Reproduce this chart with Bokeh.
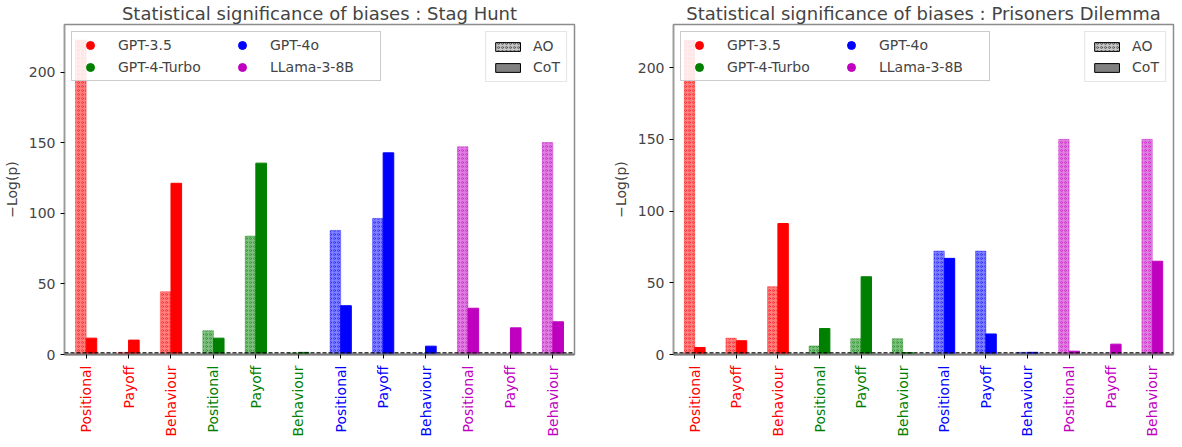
import numpy as np
from bokeh.plotting import figure
from bokeh.models import (Range1d, Span, Legend, LegendItem, FixedTicker,
                          ColumnDataSource)
from bokeh.layouts import row, column
from bokeh.core.properties import value
from bokeh.embed import file_html
from bokeh.resources import INLINE

# ---------------- data ----------------
MODELS = ["GPT-3.5", "GPT-4-Turbo", "GPT-4o", "LLama-3-8B"]
MODEL_COLORS = ["#ff0000", "#008000", "#0000ff", "#bf00bf"]
BIASES = ["Positional", "Payoff", "Behaviour"]
YTICKS = [0, 50, 100, 150, 200]
THRESHOLD = 1.3  # -log10(0.05)

STAG_AO = [223.0, 1.5, 44.5, 16.9, 84.0, 1.0, 88.0, 96.5, 0.5, 147.3, 0.3, 150.3]
STAG_COT = [11.6, 10.2, 121.4, 11.6, 135.7, 1.5, 34.6, 143.0, 5.9, 32.8, 18.9, 23.2]
PD_AO = [219.0, 11.4, 47.3, 6.0, 11.0, 11.0, 72.1, 72.1, 1.5, 150.0, 0.3, 150.0]
PD_COT = [4.9, 9.6, 91.3, 18.1, 54.2, 1.3, 67.0, 14.3, 1.5, 2.3, 7.2, 65.0]

FONT = "DejaVu Sans"
BAR_W = 0.25
FRAME_H = 330
STRIP_H = 74


def make_panel(title, ao, cot, ymax, border_left, frame_w, border_right):
    n = len(MODELS) * len(BIASES)
    idx = np.arange(n)
    labels = [b for m in MODELS for b in BIASES]
    colors = [c for c in MODEL_COLORS for _ in BIASES]
    src = ColumnDataSource(dict(x=idx, x_ao=idx - BAR_W / 2, x_cot=idx + BAR_W / 2,
                                ao=ao, cot=cot, color=colors, label=labels))
    xr = Range1d(-0.51, n - 1 + 0.51)

    p = figure(title=title, frame_width=frame_w, frame_height=FRAME_H,
               min_border_left=border_left, min_border_right=border_right,
               min_border_top=0, min_border_bottom=9,
               x_range=xr, y_range=Range1d(0, ymax),
               output_backend="svg", toolbar_location=None)
    p.background_fill_color = "white"
    p.border_fill_color = "white"
    p.grid.visible = False
    p.outline_line_color = "#8c8c8c"
    p.outline_line_width = 1.5

    p.title.text_font = FONT
    p.title.text_font_size = "18px"
    p.title.text_font_style = "normal"
    p.title.align = "center"
    p.title.standoff = 1

    # bars
    p.vbar(x="x_ao", top="ao", bottom=0, width=BAR_W, source=src,
           fill_color="color", fill_alpha=0.5, line_color="color", line_alpha=0.35,
           hatch_pattern="o", hatch_color="color", hatch_alpha=0.55,
           hatch_scale=4, hatch_weight=0.8)
    p.vbar(x="x_cot", top="cot", bottom=0, width=BAR_W, source=src,
           fill_color="color", line_color="color")

    p.add_layout(Span(location=THRESHOLD, dimension="width", line_color="black",
                      line_alpha=0.75, line_dash="4 2", line_width=1.5))

    # y axis
    p.yaxis.ticker = FixedTicker(ticks=YTICKS)
    p.yaxis.minor_tick_line_color = None
    p.yaxis.major_tick_in = 0
    p.yaxis.major_tick_out = 4
    p.yaxis.axis_line_color = "#9a9a9a"
    p.yaxis.axis_line_width = 1.5
    p.yaxis.major_label_text_font = FONT
    p.yaxis.major_label_text_font_size = "14px"
    p.yaxis.axis_label = "\u2212Log(p)"
    p.yaxis.axis_label_text_font = FONT
    p.yaxis.axis_label_text_font_size = "14px"
    p.yaxis.axis_label_text_font_style = "normal"
    p.yaxis.axis_label_standoff = 6

    # x axis: ticks only; coloured category labels are drawn in the strip below
    p.xaxis.ticker = FixedTicker(ticks=list(idx))
    p.xaxis.minor_tick_line_color = None
    p.xaxis.major_tick_in = 0
    p.xaxis.major_tick_out = 4
    p.xaxis.major_tick_line_color = "black"
    p.xaxis.axis_line_color = "#7a7a7a"
    p.xaxis.axis_line_width = 2
    p.xaxis.major_label_text_color = None
    p.xaxis.major_label_text_font_size = "1px"
    p.xaxis.major_label_standoff = 0

    # legend of models
    model_items = []
    for m, c in zip(MODELS, MODEL_COLORS):
        r = p.scatter(x=[np.nan], y=[np.nan], marker="circle", size=10,
                      fill_color=c, line_color=c)
        model_items.append(LegendItem(label=m, renderers=[r]))
    leg1 = Legend(items=model_items, location="top_left", ncols=2,
                  orientation="vertical",
                  glyph_width=30, glyph_height=20, label_height=20, spacing=2,
                  label_standoff=13, label_width=107, padding=3, margin=7,
                  label_text_font=FONT, label_text_font_size="14px",
                  border_line_color="#cccccc", border_line_alpha=1,
                  background_fill_alpha=0.85)
    p.add_layout(leg1)

    # legend of prompting style
    r_ao = p.vbar(x=[np.nan], top=[np.nan], width=BAR_W, fill_color="#c8c8c8",
                  line_color="black", hatch_pattern="o", hatch_color="#404040",
                  hatch_scale=4, hatch_weight=0.8)
    r_cot = p.vbar(x=[np.nan], top=[np.nan], width=BAR_W, fill_color="#808080",
                   line_color="black")
    leg2 = Legend(items=[LegendItem(label="AO", renderers=[r_ao]),
                         LegendItem(label="CoT", renderers=[r_cot])],
                  location="top_right", glyph_width=31, glyph_height=11,
                  label_height=11, spacing=5, label_standoff=10, padding=6, margin=7,
                  label_text_font=FONT, label_text_font_size="14px",
                  border_line_color="#cccccc", background_fill_alpha=0.85)
    p.add_layout(leg2)

    # strip holding the rotated, coloured category labels
    s = figure(frame_width=frame_w, frame_height=STRIP_H,
               min_border_left=border_left, min_border_right=border_right,
               min_border_top=0, min_border_bottom=0,
               x_range=xr, y_range=Range1d(0, 1),
               output_backend="svg", toolbar_location=None)
    s.axis.visible = False
    s.grid.visible = False
    s.outline_line_color = None
    s.background_fill_color = "white"
    s.border_fill_color = "white"
    s.text(x="x", y=1, text="label", source=src, angle=np.pi / 2,
           text_align="right", text_baseline="middle", text_color="color",
           text_font=value(FONT), text_font_size="14px", y_offset=2)
    return column(p, s)


p1 = make_panel("Statistical significance of biases : Stag Hunt", STAG_AO, STAG_COT,
                234, 53, 510, 17)
p2 = make_panel("Statistical significance of biases : Prisoners Dilemma", PD_AO, PD_COT,
                230, 82, 500, 4)

layout = row(p1, p2)
open("out.html", "w").write(file_html(layout, INLINE))
